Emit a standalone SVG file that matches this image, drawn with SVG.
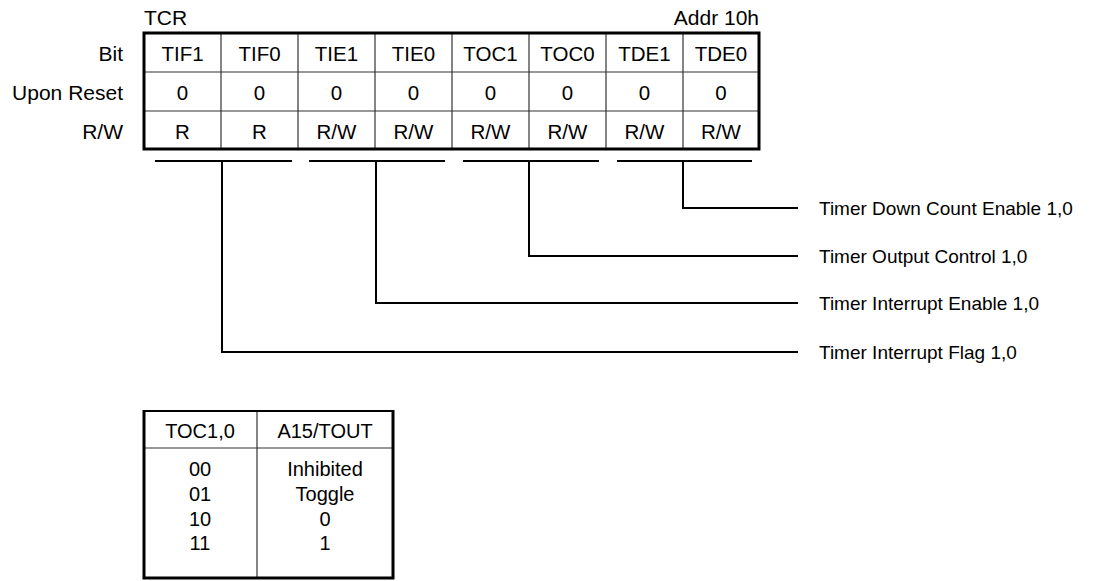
<svg xmlns="http://www.w3.org/2000/svg" width="1109" height="581" viewBox="0 0 1109 581">
<style>
text{font-family:"Liberation Sans",Arial,sans-serif;font-size:21px;fill:#000}
.c{text-anchor:middle}
.r{text-anchor:end}
.cell{font-size:20.5px}
.lbl{font-size:19px}
.tt{font-size:20px}
.thick{fill:none;stroke:#000;stroke-width:3}
.thin{stroke:#333;stroke-width:1.2;fill:none}
.ln{stroke:#000;stroke-width:2;fill:none}
</style>
<rect width="1109" height="581" fill="#fff"/>
<g id="register">
<text x="144" y="24.5">TCR</text>
<text class="r" x="759" y="24.5">Addr 10h</text>
<text class="r" x="123" y="60.5">Bit</text>
<text class="r" x="123" y="99.5">Upon Reset</text>
<text class="r" x="123" y="138.5">R/W</text>
<g class="thin">
<line x1="221" y1="33" x2="221" y2="149"/>
<line x1="298" y1="33" x2="298" y2="149"/>
<line x1="375" y1="33" x2="375" y2="149"/>
<line x1="452" y1="33" x2="452" y2="149"/>
<line x1="529" y1="33" x2="529" y2="149"/>
<line x1="606" y1="33" x2="606" y2="149"/>
<line x1="683" y1="33" x2="683" y2="149"/>
<line x1="144" y1="72" x2="759" y2="72"/>
<line x1="144" y1="111" x2="759" y2="111"/>
</g>
<rect class="thick" x="144" y="33" width="615" height="116"/>
<g class="c">
<text class="cell" x="182.5" y="60.5">TIF1</text><text class="cell" x="259.5" y="60.5">TIF0</text><text class="cell" x="336.5" y="60.5">TIE1</text><text class="cell" x="413.5" y="60.5">TIE0</text>
<text class="cell" x="490.5" y="60.5">TOC1</text><text class="cell" x="567.5" y="60.5">TOC0</text><text class="cell" x="644.5" y="60.5">TDE1</text><text class="cell" x="721" y="60.5">TDE0</text>
<text class="cell" x="182.5" y="99.5">0</text><text class="cell" x="259.5" y="99.5">0</text><text class="cell" x="336.5" y="99.5">0</text><text class="cell" x="413.5" y="99.5">0</text>
<text class="cell" x="490.5" y="99.5">0</text><text class="cell" x="567.5" y="99.5">0</text><text class="cell" x="644.5" y="99.5">0</text><text class="cell" x="721" y="99.5">0</text>
<text class="cell" x="182.5" y="138.5">R</text><text class="cell" x="259.5" y="138.5">R</text><text class="cell" x="336.5" y="138.5">R/W</text><text class="cell" x="413.5" y="138.5">R/W</text>
<text class="cell" x="490.5" y="138.5">R/W</text><text class="cell" x="567.5" y="138.5">R/W</text><text class="cell" x="644.5" y="138.5">R/W</text><text class="cell" x="721" y="138.5">R/W</text>
</g>
</g>
<g id="connectors" class="ln">
<line x1="155" y1="161" x2="292" y2="161"/>
<line x1="309" y1="161" x2="445" y2="161"/>
<line x1="463" y1="161" x2="599" y2="161"/>
<line x1="617" y1="161" x2="752" y2="161"/>
<polyline points="683,161 683,208 798,208"/>
<polyline points="529,161 529,256 798,256"/>
<polyline points="376,161 376,303 798,303"/>
<polyline points="222,161 222,352 798,352"/>
</g>
<g id="labels">
<text class="lbl" x="819" y="215">Timer Down Count Enable 1,0</text>
<text class="lbl" x="819" y="263">Timer Output Control 1,0</text>
<text class="lbl" x="819" y="310">Timer Interrupt Enable 1,0</text>
<text class="lbl" x="819" y="359">Timer Interrupt Flag 1,0</text>
</g>
<g id="toc-table">
<line class="thin" x1="257" y1="411" x2="257" y2="578"/>
<line class="thin" x1="144" y1="448" x2="393" y2="448"/>
<line stroke="#000" stroke-width="2" x1="144" y1="411" x2="393" y2="411"/>
<polyline class="thick" points="144,410 144,578 393,578 393,410"/>
<g class="c">
<text class="tt" x="200" y="437.5">TOC1,0</text><text class="tt" x="325" y="437.5">A15/TOUT</text>
<text class="tt" x="200" y="475.5">00</text><text class="tt" x="325" y="475.5">Inhibited</text>
<text class="tt" x="200" y="500.5">01</text><text class="tt" x="325" y="500.5">Toggle</text>
<text class="tt" x="200" y="525.5">10</text><text class="tt" x="325" y="525.5">0</text>
<text class="tt" x="200" y="549.5">11</text><text class="tt" x="325" y="549.5">1</text>
</g>
</g>
</svg>
